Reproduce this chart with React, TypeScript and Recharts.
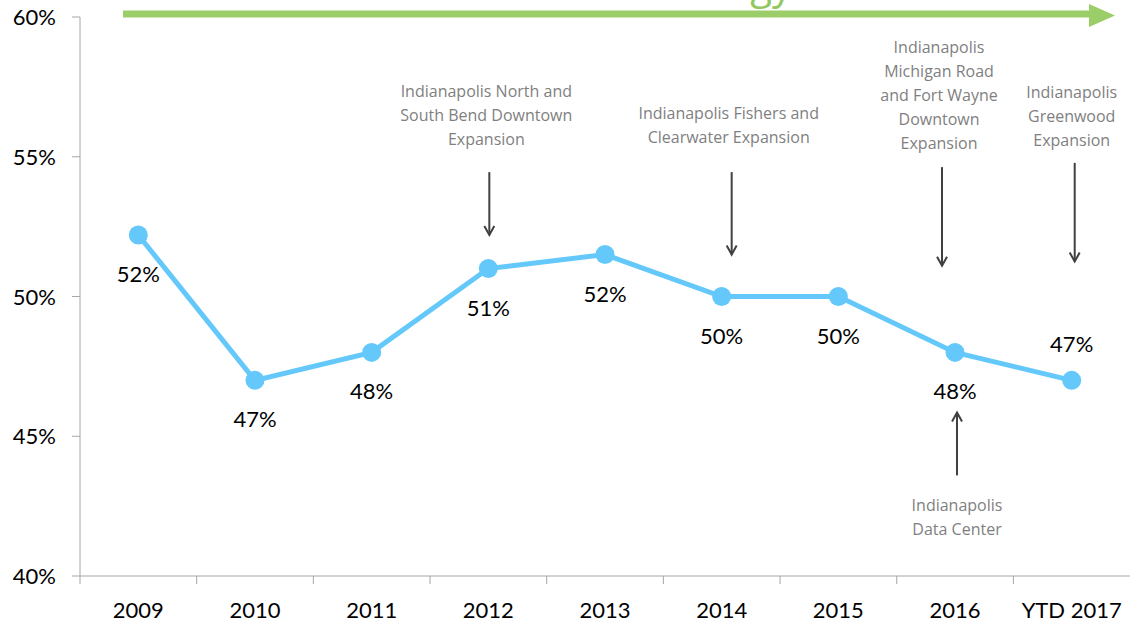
import { LineChart, Line, XAxis, YAxis, ReferenceLine, LabelList } from "recharts";

const years = ["2009", "2010", "2011", "2012", "2013", "2014", "2015", "2016", "YTD 2017"];
const shares = [52.2, 47.0, 48.0, 51.0, 51.5, 50.0, 50.0, 48.0, 47.0];
const yTicks = [40, 45, 50, 55, 60];
const labelAboveYears = ["YTD 2017"];

interface Annotation {
  year: string;
  lines: string[];
  from: number;
  to: number;
  dx: number;
  gap: number;
  below?: boolean;
}

const annotations: Annotation[] = [
  { year: "2012", lines: ["Indianapolis North and", "South Bend Downtown", "Expansion"], from: 54.45, to: 52.2, dx: 1, gap: 27 },
  { year: "2014", lines: ["Indianapolis Fishers and", "Clearwater Expansion"], from: 54.45, to: 51.5, dx: 10, gap: 29 },
  {
    year: "2016",
    lines: ["Indianapolis", "Michigan Road", "and Fort Wayne", "Downtown", "Expansion"],
    from: 54.63,
    to: 51.1,
    dx: -13,
    gap: 18,
  },
  { year: "YTD 2017", lines: ["Indianapolis", "Greenwood", "Expansion"], from: 54.78, to: 51.25, dx: 3, gap: 17 },
  { year: "2016", lines: ["Indianapolis", "Data Center"], from: 43.6, to: 45.85, dx: 2, gap: 36, below: true },
];

const data = years.map((year, i) => ({ year, share: shares[i] }));

const W = 1130;
const H = 622;
const PAD = 58.3;
const AXIS = "#a6a6a6";
const BLUE = "#64c8fa";
const NOTE = "#7f7f7f";
const tickFont = "Lato, 'Noto Sans', sans-serif";
const noteFont = "'Open Sans', 'Noto Sans', sans-serif";

function XTick(props: any) {
  const { x, y, payload } = props;
  return (
    <g>
      <line x1={x - PAD} x2={x - PAD} y1={y - 8} y2={y} stroke={AXIS} strokeWidth={1} />
      <text x={x} y={y + 34} textAnchor="middle" fontFamily={tickFont} fontSize={22} fill="#000">
        {payload.value}
      </text>
    </g>
  );
}

function YTick(props: any) {
  const { x, y, payload } = props;
  return (
    <text x={x - 14} y={y + 8} textAnchor="end" fontFamily={tickFont} fontSize={22} fill="#000">
      {payload.value}%
    </text>
  );
}

function renderLabel(props: any) {
  const { x, y, value, index } = props;
  const above = labelAboveYears.includes(years[index]);
  return (
    <text
      x={x}
      y={above ? y - 28 : y + 47}
      textAnchor="middle"
      fontFamily={tickFont}
      fontSize={22}
      fill="#000"
    >
      {Math.round(value)}%
    </text>
  );
}

function noteShape(note: Annotation) {
  return (props: any) => {
    const { x1, y1, x2, y2 } = props;
    const ax = x1 + note.dx;
    const bx = x2 + note.dx;
    const dir = y2 > y1 ? 1 : -1;
    const lh = 24;
    const textY = note.below
      ? note.lines.map((_, i) => y1 + note.gap + i * lh)
      : note.lines.map((_, i) => y1 - note.gap - (note.lines.length - 1 - i) * lh);
    return (
      <g>
        <line x1={ax} y1={y1} x2={bx} y2={y2} stroke="#404040" strokeWidth={2} />
        <path
          d={`M${bx - 5},${y2 - dir * 9} L${bx},${y2} L${bx + 5},${y2 - dir * 9}`}
          fill="none"
          stroke="#404040"
          strokeWidth={2}
        />
        {note.lines.map((l, i) => (
          <text
            key={i}
            x={x1 + note.dx - (note.below ? 0 : 3)}
            y={textY[i]}
            textAnchor="middle"
            fontFamily={noteFont}
            fontSize={16}
            fill={NOTE}
          >
            {l}
          </text>
        ))}
      </g>
    );
  };
}

export default function App() {
  return (
    <div style={{ position: "relative", width: W, height: H, background: "#fff" }}>
      <style>{"body{margin:0}"}</style>
      <LineChart width={W} height={H} data={data} margin={{ top: 17, right: 0, bottom: 0, left: 0 }}>
        <XAxis
          dataKey="year"
          padding={{ left: PAD, right: PAD }}
          height={46}
          axisLine={{ stroke: AXIS }}
          tickLine={false}
          tick={<XTick />}
          interval={0}
        />
        <YAxis
          domain={[40, 60]}
          ticks={yTicks}
          width={80}
          axisLine={{ stroke: AXIS }}
          tickLine={{ stroke: AXIS }}
          tickSize={8}
          tick={<YTick />}
        />
        {annotations.map((n, i) => (
          <ReferenceLine
            key={i}
            segment={[
              { x: n.year, y: n.from },
              { x: n.year, y: n.to },
            ]}
            shape={noteShape(n)}
            ifOverflow="visible"
          />
        ))}
        <Line
          type="linear"
          dataKey="share"
          stroke={BLUE}
          strokeWidth={5}
          dot={{ r: 9.5, fill: BLUE, stroke: "none" }}
          activeDot={false}
          isAnimationActive={false}
        >
          <LabelList dataKey="share" content={renderLabel} />
        </Line>
      </LineChart>
      <svg
        width={W}
        height={40}
        style={{ position: "absolute", left: 0, top: 0, pointerEvents: "none" }}
      >
        <text x={792} y={-1} textAnchor="end" fontFamily={noteFont} fontSize={40} fill="#92c85f">
          Growth Strategy
        </text>
        <rect x={123} y={10.5} width={968} height={7} fill="#9bce68" />
        <path d="M1089,4 L1115,15.5 L1089,27 Z" fill="#9bce68" />
      </svg>
    </div>
  );
}
